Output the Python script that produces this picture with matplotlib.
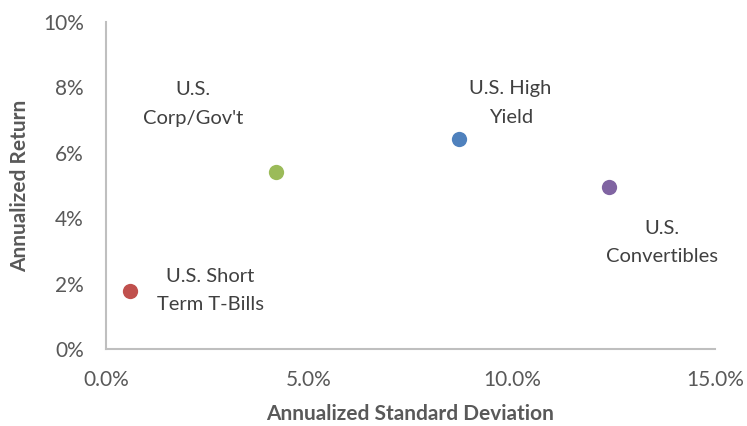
import matplotlib.pyplot as plt
from matplotlib.ticker import FuncFormatter

plt.rcParams['font.family'] = ['Lato', 'DejaVu Sans']

names = ["U.S. Short\nTerm T-Bills", "U.S.\nCorp/Gov't", "U.S. High\nYield", "U.S.\nConvertibles"]
std_dev = [0.59, 4.19, 8.70, 12.40]   # annualized standard deviation, %
returns = [1.78, 5.41, 6.42, 4.96]    # annualized return, %
colors = ['#C0504D', '#9BBB59', '#4F81BD', '#8064A2']
# label offsets in points from each marker
offsets = [(58, 0), (-60, 49), (37, 26), (38, -40)]

grey = '#595959'

fig = plt.figure(figsize=(7.47, 4.26), dpi=100)
ax = fig.add_axes([0.1419, 0.1808, 0.8153, 0.7676])

for x, y, c, name, off in zip(std_dev, returns, colors, names, offsets):
    ax.scatter(x, y, s=11**2, color=c, zorder=3, linewidths=0)
    ax.annotate(name, (x, y), xytext=off, textcoords='offset points',
                ha='center', va='center', fontsize=14.5, color='#404040',
                linespacing=1.8)

ax.set_xlim(0, 15)
ax.set_ylim(0, 10)
ax.set_xticks([0, 5, 10, 15])
ax.set_yticks([0, 2, 4, 6, 8, 10])
ax.xaxis.set_major_formatter(FuncFormatter(lambda v, p: f"{v:.1f}%"))
ax.yaxis.set_major_formatter(FuncFormatter(lambda v, p: f"{v:.0f}%"))
ax.tick_params(length=0, labelsize=15, colors=grey)
ax.tick_params(axis='x', pad=15)
ax.tick_params(axis='y', pad=16)

for s in ['top', 'right']:
    ax.spines[s].set_visible(False)
for s in ['left', 'bottom']:
    ax.spines[s].set_color('#BFBFBF')
    ax.spines[s].set_linewidth(1.5)

ax.set_xlabel("Annualized Standard Deviation", fontsize=15, fontweight='bold', color=grey, labelpad=10)
ax.set_ylabel("Annualized Return", fontsize=15, fontweight='bold', color=grey, labelpad=9)

fig.savefig("out.png", dpi=100)
